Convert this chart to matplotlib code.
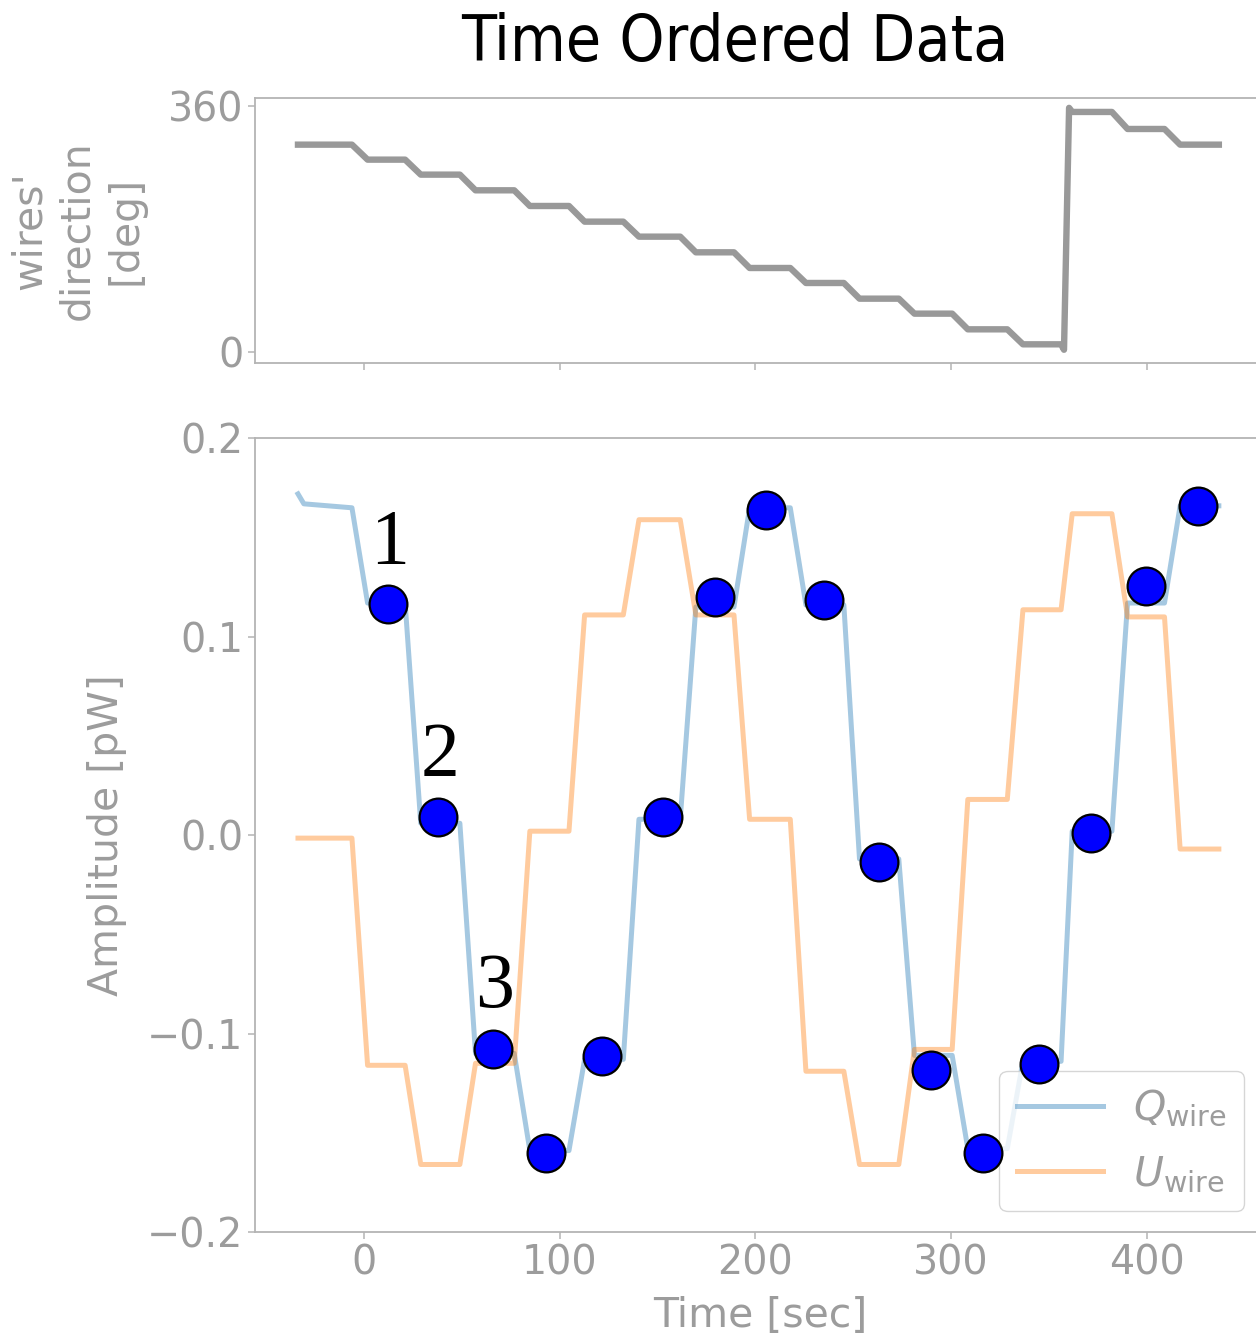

import numpy as np
import matplotlib
matplotlib.use('Agg')
import matplotlib.pyplot as plt


# Data
t_first = -34.0   # first sample [sec]
t_last = 437.0    # last sample [sec]

# start / end of each wire rotation step [sec]
step_start = [-6.4, 20.8, 48.8, 76.6, 104.6, 132.4, 161.5, 189.0, 217.8, 245.2,
              273.3, 300.6, 328.8, 356.3, 382.3, 409.2]
step_end = [1.6, 28.8, 56.8, 84.6, 112.6, 140.4, 169.5, 197.0, 225.8, 253.2,
            281.3, 308.6, 336.8, 362.0, 390.3, 417.2]

# plateau levels between the steps
angle_levels = [304, 282, 260, 237, 214, 191, 169, 146, 123, 101, 78, 56, 33, 11,
                352, 327, 304]
Q_levels = [0.165, 0.117, 0.006, -0.110, -0.159, -0.113, 0.008, 0.115, 0.165,
            0.116, -0.012, -0.111, -0.158, -0.114, 0.002, 0.117, 0.166]
U_levels = [-0.0015, -0.116, -0.166, -0.115, 0.002, 0.111, 0.159, 0.111, 0.008,
            -0.119, -0.166, -0.108, 0.018, 0.1136, 0.162, 0.110, -0.007]

# a few extra corners (hook at the 360 deg wrap, start of Q)
angle_extra_t = [357.8, 360.4]
angle_extra_v = [3.0, 358.0]
Q_extra_t = [-34.0, -31.0]
Q_extra_v = [0.172, 0.167]

# sampled points (blue dots)
dot_t = [12.0, 37.7, 65.8, 93.1, 121.3, 152.8, 179.2, 205.6, 234.9, 263.0,
         290.0, 316.4, 344.8, 371.8, 399.9, 426.1]
dot_v = [0.1164, 0.0089, -0.1078, -0.160, -0.1113, 0.0089, 0.120, 0.1639,
         0.1185, -0.0135, -0.1183, -0.160, -0.1152, 0.001, 0.1258, 0.1659]
dot_labels = ['1', '2', '3']

x_ticks = [0, 100, 200, 300, 400]
angle_ticks = [0, 360]
amp_ticks = [-0.2, -0.1, 0.0, 0.1, 0.2]


def knots(levels, extra_t=(), extra_v=()):
    # corner points of the step + ramp curve
    t = [t_first]
    v = [levels[0]]
    for i in range(len(step_start)):
        t += [step_start[i], step_end[i]]
        v += [levels[i], levels[i + 1]]
    t.append(t_last)
    v.append(levels[-1])
    # extra corners replace / add to the plain steps
    for te, ve in zip(extra_t, extra_v):
        if te in t:
            v[t.index(te)] = ve
        else:
            t.append(te)
            v.append(ve)
    order = np.argsort(t, kind='stable')
    return np.array(t)[order], np.array(v)[order]


t_ang, v_ang = knots(angle_levels, angle_extra_t, angle_extra_v)
t_Q, v_Q = knots(Q_levels, Q_extra_t, Q_extra_v)
t_U, v_U = knots(U_levels)


# Some Definitions
Gray = '#9c9c9c'
SpineGray = '#b4b4b4'
TickLabelfont = 28.5
Labelfont = 29.5
LineWd = 3.6

plt.rcParams['font.family'] = 'DejaVu Sans'

fig = plt.figure(figsize=(12.56, 13.34), dpi=100)
ax1 = fig.add_axes([0.203, 0.7281, 0.804, 0.1982])
ax2 = fig.add_axes([0.203, 0.0765, 0.804, 0.5949], sharex=ax1)

# wires' direction
ax1.plot(t_ang, v_ang, color='#999999', lw=4.6, solid_joinstyle='round')
ax1.set_ylim(-16, 372)
ax1.set_yticks(angle_ticks)
ax1.set_ylabel("wires'\ndirection\n[deg]", fontsize=Labelfont, color=Gray,
               labelpad=16, linespacing=1.25)
ax1.tick_params(axis='x', labelbottom=False)

# time ordered data
ax2.plot(t_Q, v_Q, color='tab:blue', alpha=0.4, lw=LineWd, label=r'$Q_{\rm wire}$')
ax2.plot(t_U, v_U, color='tab:orange', alpha=0.4, lw=LineWd, label=r'$U_{\rm wire}$')
ax2.scatter(dot_t, dot_v, s=740, color='#0000ff', edgecolor='black',
            linewidth=1.6, zorder=6)
for i, txt in enumerate(dot_labels):
    ax2.annotate(txt, (dot_t[i], dot_v[i]), xytext=(1, 30), textcoords='offset points',
                 ha='center', va='baseline', fontsize=56,
                 fontfamily='Liberation Serif', zorder=7)

ax2.set_xlim(-56, 460.5)
ax2.set_ylim(-0.2, 0.2)
ax2.set_xticks(x_ticks)
ax2.set_yticks(amp_ticks)
ax2.set_xlabel('Time [sec]', fontsize=Labelfont, color=Gray, labelpad=9)
ax2.set_ylabel('Amplitude [pW]', fontsize=Labelfont, color=Gray, labelpad=14)

leg = ax2.legend(loc='lower right', fontsize=29.5, labelcolor=Gray,
                 handlelength=2.1, labelspacing=0.62, borderpad=0.42,
                 handletextpad=0.75)
leg.set_zorder(5)

for ax in [ax1, ax2]:
    for sp in ax.spines.values():
        sp.set_color(SpineGray)
        sp.set_linewidth(1.3)
    ax.tick_params(axis='both', colors=SpineGray, labelcolor=Gray,
                   labelsize=TickLabelfont, length=5, width=1.1)

fig.text(0.585, 0.968, 'Time Ordered Data', fontsize=46, ha='center', va='center',
         fontstretch='condensed')

plt.savefig('out.png', dpi=100)
